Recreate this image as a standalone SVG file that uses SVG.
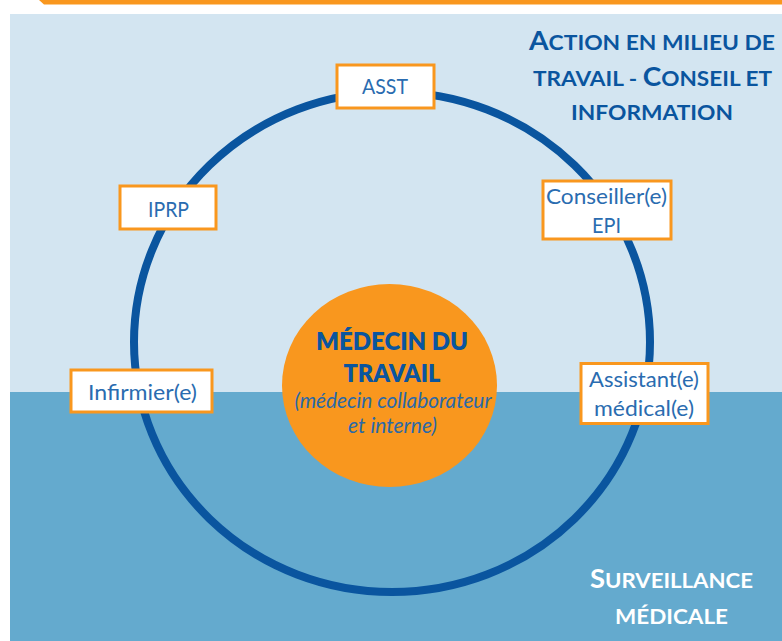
<svg xmlns="http://www.w3.org/2000/svg" width="782" height="641" viewBox="0 0 782 641">
<style>
text{font-family:Lato,"Open Sans","Liberation Sans",sans-serif;text-anchor:middle}
.box{fill:#fff;stroke:#f9971e;stroke-width:3}
.lbl{font-size:21.500px;fill:#2a6cb0;font-weight:400}
.zone{font-size:21px;font-weight:700}
.cap{font-size:26px}
.sub{font-size:20.500px;font-style:italic;fill:#2a69a8;font-weight:400}
.head{font-size:24.500px;font-weight:800;fill:#0a559f}
</style>
<rect id="band-top" x="10" y="14" width="772" height="378" fill="#d3e5f1"/>
<rect id="band-bottom" x="10" y="392" width="772" height="249" fill="#64aace"/>
<path id="top-bar" d="M39 0H782V4.500H44Z" fill="#f9971e"/>
<g id="connectors"><ellipse cx="392" cy="342" rx="258" ry="250" fill="none" stroke="#0a559f" stroke-width="8"/></g>
<g id="center"><ellipse cx="389.500" cy="385.500" rx="107.500" ry="101.500" fill="#f9971e"/>
<text class="head" x="392" y="350" textLength="152" lengthAdjust="spacingAndGlyphs">MÉDECIN DU</text>
<text class="head" x="392" y="382" textLength="97" lengthAdjust="spacingAndGlyphs">TRAVAIL</text>
<text class="sub" x="393" y="408" textLength="197" lengthAdjust="spacingAndGlyphs">(médecin collaborateur</text>
<text class="sub" x="392.500" y="433" textLength="89" lengthAdjust="spacingAndGlyphs">et interne)</text></g>
<g id="asst"><rect class="box" x="337" y="65" width="97" height="43"/><text class="lbl" x="385" y="94" textLength="46" lengthAdjust="spacingAndGlyphs">ASST</text></g>
<g id="iprp"><rect class="box" x="120" y="186" width="96" height="43"/><text class="lbl" x="168.500" y="217" textLength="41" lengthAdjust="spacingAndGlyphs">IPRP</text></g>
<g id="conseiller"><rect class="box" x="543" y="181" width="128" height="58"/><text class="lbl" x="606.500" y="204" textLength="121" lengthAdjust="spacingAndGlyphs">Conseiller(e)</text><text class="lbl" x="606.500" y="233" textLength="29" lengthAdjust="spacingAndGlyphs">EPI</text></g>
<g id="assistant"><rect class="box" x="581" y="363.500" width="127" height="60"/><text class="lbl" x="644" y="387" textLength="110" lengthAdjust="spacingAndGlyphs">Assistant(e)</text><text class="lbl" x="644" y="416" textLength="100" lengthAdjust="spacingAndGlyphs">médical(e)</text></g>
<g id="infirmier"><rect class="box" x="71" y="370" width="141" height="42"/><text class="lbl" x="142.500" y="400" textLength="109" lengthAdjust="spacingAndGlyphs">Infirmier(e)</text></g>
<g id="zone-action" fill="#0a559f"><text class="zone" x="652" y="50" textLength="246" lengthAdjust="spacingAndGlyphs"><tspan class="cap">A</tspan>CTION EN MILIEU DE</text><text class="zone" x="652.500" y="86" textLength="239" lengthAdjust="spacingAndGlyphs">TRAVAIL - <tspan class="cap">C</tspan>ONSEIL ET</text><text class="zone" x="652" y="120" textLength="162" lengthAdjust="spacingAndGlyphs">INFORMATION</text></g>
<g id="zone-surveillance" fill="#fff"><text class="zone" x="671.500" y="588" textLength="163" lengthAdjust="spacingAndGlyphs"><tspan class="cap">S</tspan>URVEILLANCE</text><text class="zone" x="671.500" y="624" textLength="113" lengthAdjust="spacingAndGlyphs">MÉDICALE</text></g>
</svg>
